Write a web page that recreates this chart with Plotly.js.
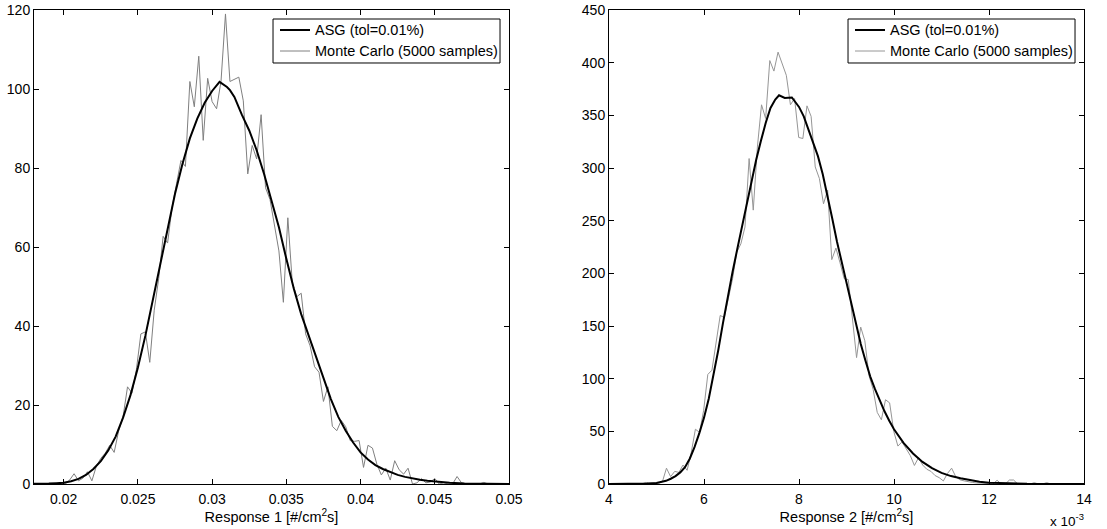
<!DOCTYPE html>
<html>
<head>
<meta charset="utf-8">
<script src="https://cdn.plot.ly/plotly-3.0.1.min.js"></script>
<style>html,body{margin:0;padding:0;background:#fff;}#chart{width:1107px;height:529px;}</style>
</head>
<body>
<div id="chart"></div>
<script>
// ---------- Response 1 ----------
const asg1X = [0.0175,0.018,0.019,0.0195,0.020,0.0205,0.021,0.0215,0.022,0.0225,0.023,0.0235,0.024,0.0245,0.025,0.0255,0.026,0.0265,0.027,0.0275,0.028,0.0285,0.029,0.0295,0.030,0.0305,0.031,0.0312,0.0315,0.032,0.0325,0.033,0.0335,0.034,0.0345,0.035,0.0355,0.036,0.0365,0.037,0.0375,0.038,0.0385,0.039,0.0395,0.040,0.0405,0.041,0.0415,0.042,0.0425,0.043,0.0435,0.044,0.0445,0.045,0.046,0.047,0.048,0.050];
const asg1Y = [0,0,0.1,0.2,0.3,0.7,1.3,2.3,3.8,5.8,8.5,12,16.8,22.5,29.5,37.5,46.5,56,65,73.5,81,87.5,92.5,96.5,99.5,101.8,100.5,99.7,98,93.5,89.5,84.5,78.5,72,65,57,49.5,43,37.5,32,26.5,21.5,17,13.5,10.5,8,6.2,4.8,3.8,3.0,2.3,1.8,1.4,1.1,0.8,0.6,0.3,0.15,0.05,0];

const mc1X = [0.0189,0.0192,0.0195,0.0198,0.0201,0.0204,0.0207,0.0210,0.0213,0.0216,0.0219,0.0222,0.0225,0.0228,0.0231,0.0234,0.0237,0.0240,0.0243,0.0246,0.0249,0.0252,0.0255,0.0258,0.0261,0.0264,0.0267,0.0270,0.0273,0.0276,0.0279,0.0282,0.0285,0.0288,0.0291,0.0294,0.0297,0.0300,0.0303,0.0306,0.0309,0.0312,0.0315,0.0318,0.0321,0.0324,0.0327,0.0330,0.0333,0.0336,0.0339,0.0342,0.0345,0.0348,0.0351,0.0354,0.0357,0.0360,0.0363,0.0366,0.0369,0.0372,0.0375,0.0378,0.0381,0.0384,0.0387,0.0390,0.0393,0.0396,0.0399,0.0402,0.0405,0.0408,0.0411,0.0414,0.0417,0.0420,0.0423,0.0426,0.0429,0.0432,0.0435,0.0438,0.0441,0.0444,0.0447,0.0450,0.0453,0.0456,0.0459,0.0462,0.0465,0.0468,0.0471,0.0474,0.0477,0.0480,0.0483,0.0486,0.0489,0.0492,0.0495,0.0498];
const mc1Y = [0,0,0,0.4,0,1,2.6,0.8,1.5,3.1,0.8,4.5,6.5,7.8,9.8,8,13.4,17,24.6,23,29,38,38.5,30.8,44,52,62.7,61,70,76,81.9,80.4,101.9,95.5,108.3,87,102.7,96.8,95,102,119,101.9,102.5,103,97,78.5,85.7,82.3,93.5,75,72,66,59,46,67.4,51,47.4,48.3,38,35,29.7,28.3,20.9,24.6,14.6,13.5,16.1,14.5,11,10.8,11,4.2,9.8,9.1,5,2.3,4,1,5.9,3.6,2.5,4,0,0.3,1.4,0.3,0.5,1.4,0,0.3,0,0,1.9,0.3,0,0,0,0,0.4,0,0,0,0,0];

// ---------- Response 2 (x in units of 1e-3) ----------
const asg2X = [4.0,4.4,4.8,5.0,5.2,5.3,5.4,5.5,5.6,5.7,5.8,5.9,6.0,6.1,6.2,6.3,6.4,6.5,6.6,6.7,6.8,6.9,7.0,7.1,7.2,7.3,7.4,7.5,7.58,7.7,7.85,8.0,8.1,8.2,8.3,8.4,8.5,8.6,8.7,8.8,8.9,9.0,9.1,9.2,9.3,9.4,9.5,9.6,9.7,9.8,9.9,10.0,10.2,10.4,10.6,10.8,11.0,11.2,11.4,11.6,11.8,12.0,12.4,12.8,13.4,14.0];
const asg2Y = [0,0.1,0.5,1.0,3,5,7.5,11,16,24,35,48,63,81,103,127,153,178,201,223,245,267,288,308,326,343,357,365,369,366.5,367,358,349,337,325,311,294,274,252,230,210,190,170,150,133,117,102,90,79,69,60,52,39,29,21,15,10.5,7.5,5.5,3.5,2.2,1.3,0.5,0.2,0.05,0];

const mc2X = [4.427,4.514,4.601,4.688,4.775,4.862,4.949,5.036,5.123,5.210,5.297,5.384,5.471,5.558,5.645,5.732,5.819,5.906,5.993,6.080,6.167,6.254,6.341,6.428,6.515,6.602,6.689,6.776,6.863,6.950,7.037,7.124,7.211,7.298,7.385,7.472,7.559,7.646,7.733,7.820,7.907,7.994,8.081,8.168,8.255,8.342,8.429,8.516,8.603,8.690,8.777,8.864,8.951,9.038,9.125,9.212,9.299,9.386,9.473,9.560,9.647,9.734,9.821,9.908,9.995,10.082,10.169,10.256,10.343,10.430,10.517,10.604,10.691,10.778,10.865,10.952,11.039,11.126,11.213,11.300,11.387,11.474,11.561,11.648,11.735,11.822,11.909,11.996,12.083,12.170,12.257,12.344,12.431,12.518,12.605,12.692,12.779,12.866,12.953,13.040,13.127,13.214,13.301,13.388,13.475,13.562,13.649];
const mc2Y = [0,0,0,0,1.5,0,1,0.5,2,15,7,12,11,18,13,30,52,49,70,104,108,135,160,158,178,195,220,228,244,309,260,320,360,347,402,392,410,398,388,360,366,329,328,359,349,301,290,266,279,213,224,210,195,194,160,120,149,136,103,90,68,61,80,77,50,36,40,33,27,17.6,25,18,14,12,8,6,2.9,10,15,7,4,3,2,1.5,1,1,0.5,0.5,0,3.5,0,0,3.8,3.8,0,0,0,0,1.3,0,0,1.3,0,0,0,0,0];

const legendNames = ["ASG (tol=0.01%)", "Monte Carlo (5000 samples)"];
const xTitles = ["Response 1 [#/cm<sup>2</sup>s]", "Response 2 [#/cm<sup>2</sup>s]"];
const FONT = "Liberation Sans, Arial, Helvetica, sans-serif";
const ASG_STYLE = {color: "#000000", width: 2};
const MC_STYLES = [{color: "#808080", width: 1}, {color: "#969696", width: 1}];

const traces = [
  {x: mc1X, y: mc1Y, name: legendNames[1], type: "scatter", mode: "lines", xaxis: "x", yaxis: "y", line: MC_STYLES[0]},
  {x: asg1X, y: asg1Y, name: legendNames[0], type: "scatter", mode: "lines", xaxis: "x", yaxis: "y", line: ASG_STYLE},
  {x: mc2X, y: mc2Y, name: legendNames[1], type: "scatter", mode: "lines", xaxis: "x2", yaxis: "y2", line: MC_STYLES[1]},
  {x: asg2X, y: asg2Y, name: legendNames[0], type: "scatter", mode: "lines", xaxis: "x2", yaxis: "y2", line: ASG_STYLE}
];

const axisCommon = {
  showline: true, linecolor: "#000", linewidth: 1, mirror: "ticks",
  ticks: "inside", ticklen: 5, tickcolor: "#000", tickwidth: 1,
  showgrid: false, zeroline: false,
  tickfont: {family: FONT, size: 14, color: "#000"}
};

// Legend boxes (MATLAB-style, drawn in axis-domain coordinates)
const shapes = [], annotations = [];
[["x", "y", MC_STYLES[0]], ["x2", "y2", MC_STYLES[1]]].forEach(([xa, ya, mcStyle]) => {
  const xr = xa + " domain", yr = ya + " domain";
  shapes.push({type: "rect", xref: xr, yref: yr, x0: 0.5032, x1: 0.9811, y0: 0.8882, y1: 0.9810,
               line: {color: "#000", width: 1}, fillcolor: "#fff", layer: "above"});
  const rows = [0.9578, 0.9135];
  const styles = [ASG_STYLE, mcStyle];
  rows.forEach((ry, i) => {
    shapes.push({type: "line", xref: xr, yref: yr, x0: 0.5179, x1: 0.5811, y0: ry, y1: ry,
                 line: {color: styles[i].color, width: styles[i].width}, layer: "above"});
    annotations.push({text: legendNames[i], xref: xr, yref: yr, x: 0.5874, y: ry, xanchor: "left", yanchor: "middle",
                      showarrow: false, font: {family: FONT, size: 14.5, color: "#000"}});
  });
});
annotations.push({text: "x 10<sup>-3</sup>", xref: "paper", yref: "paper", x: 1.002, y: -0.076, xanchor: "right", yanchor: "middle",
                  showarrow: false, font: {family: FONT, size: 13.5, color: "#000"}});

const layout = {
  width: 1107, height: 529,
  paper_bgcolor: "#fff", plot_bgcolor: "#fff",
  margin: {l: 34, r: 23, t: 10, b: 45},
  font: {family: FONT, size: 14, color: "#000"},
  showlegend: false,
  xaxis: Object.assign({}, axisCommon, {domain: [0, 0.45238], range: [0.018, 0.05], tick0: 0.02, dtick: 0.005, anchor: "y",
    ticklabelstandoff: 2,
    title: {text: xTitles[0], font: {family: FONT, size: 14.5, color: "#000"}, standoff: 3}}),
  yaxis: Object.assign({}, axisCommon, {domain: [0, 1], range: [0, 120], dtick: 20, anchor: "x"}),
  xaxis2: Object.assign({}, axisCommon, {domain: [0.54762, 1], range: [4, 14], dtick: 2, anchor: "y2",
    ticklabelstandoff: 2,
    title: {text: xTitles[1], font: {family: FONT, size: 14.5, color: "#000"}, standoff: 3}}),
  yaxis2: Object.assign({}, axisCommon, {domain: [0, 1], range: [0, 450], dtick: 50, anchor: "x2"}),
  shapes: shapes,
  annotations: annotations
};

Plotly.newPlot("chart", traces, layout, {displayModeBar: false, staticPlot: true});
</script>
</body>
</html>
